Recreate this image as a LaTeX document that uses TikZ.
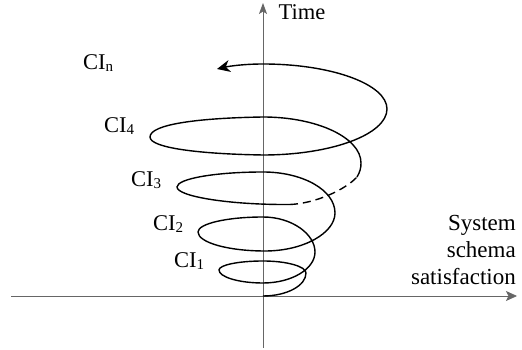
\documentclass[tikz,border=0pt]{standalone}
\usepackage{fontspec}
\setmainfont{Liberation Serif}
\usetikzlibrary{arrows.meta}
\newcommand{\mysub}[1]{\raisebox{-2pt}{\fontsize{15}{15}\selectfont #1}}
\begin{document}
\begin{tikzpicture}[x=1pt,y=1pt,
  axis/.style={draw=black!60, line width=0.8pt},
  spiral/.style={draw=black, line width=1.4pt},
  lbl/.style={font=\fontsize{22.5}{27}\selectfont, inner sep=0pt, anchor=base west},
  rlbl/.style={font=\fontsize{23}{27}\selectfont, inner sep=0pt, anchor=base east},
]
\useasboundingbox (0,0) rectangle (522,350);
% axes
\coordinate (xs) at (11,54);
\coordinate (xe) at (517,54);
\coordinate (ys) at (263,2);
\coordinate (ye) at (263,347);
\draw[axis, -{Stealth[length=11pt,width=10pt,inset=2.5pt]}] (xs) -- (xe);
\draw[axis, -{Stealth[length=11pt,width=8pt,inset=2.5pt]}] (ys) -- (ye);
% spiral points
\coordinate (P0) at (263,54);
\coordinate (R1) at (306,77);
\coordinate (T1) at (263,89);
\coordinate (L1) at (219,80);
\coordinate (B1) at (263,67);
\coordinate (R2) at (315,98);
\coordinate (T2) at (263,133);
\coordinate (L2) at (198,118);
\coordinate (B2) at (265,99);
\coordinate (R3) at (335,137);
\coordinate (T3) at (263,178);
\coordinate (L3) at (177,163);
\coordinate (B3) at (290,145.5);
\coordinate (D1) at (357,173);
\coordinate (R4) at (361,187);
\coordinate (T4) at (263,233);
\coordinate (L4) at (150,213);
\coordinate (B4) at (263,195);
\coordinate (R5) at (387,241);
\coordinate (T5) at (263,286);
\coordinate (E) at (217,281);
% solid lower part
\draw[spiral] (P0) .. controls (286.7,54) and (306,64.3) .. (R1)
  .. controls (306,83.6) and (286.7,89) .. (T1)
  .. controls (238.7,89) and (219,85) .. (L1)
  .. controls (219,73) and (238.7,67) .. (B1)
  .. controls (291.7,67) and (315,81) .. (R2)
  .. controls (315,116) and (291.7,133) .. (T2)
  .. controls (227,133) and (198,126.3) .. (L2)
  .. controls (198,107.5) and (228,99) .. (B2)
  .. controls (303.6,99) and (335,117) .. (R3)
  .. controls (335,160) and (302.7,178) .. (T3)
  .. controls (215.5,178) and (177,171.3) .. (L3)
  .. controls (177,153.5) and (230,145) .. (B3);
% dashed part
\draw[spiral, dash pattern=on 8pt off 5pt] (B3) .. controls (315,146.5) and (345,160) .. (D1);
% solid upper part
\draw[spiral, -{Stealth[length=13pt,width=12pt,inset=4pt]}] (D1) .. controls (360,178) and (361,182) .. (R4)
  .. controls (361,212.4) and (317,233) .. (T4)
  .. controls (200,232) and (150,226) .. (L4)
  .. controls (150,202) and (200,196) .. (B4)
  .. controls (331.4,195) and (387,215.6) .. (R5)
  .. controls (387,265.8) and (331.4,286) .. (T5)
  .. controls (245,286) and (230,284) .. (E);
% labels
\node[lbl] (time) at (278.5,330) {Time};
\node[lbl] (cin) at (83,280.5) {CI\mysub{n}};
\node[lbl] (ci4) at (104,217) {CI\mysub{4}};
\node[lbl] (ci3) at (131,163.3) {CI\mysub{3}};
\node[lbl] (ci2) at (153,119.3) {CI\mysub{2}};
\node[lbl] (ci1) at (174,82) {CI\mysub{1}};
\node[rlbl] (sys) at (516,119) {System};
\node[rlbl] (sch) at (516,92) {schema};
\node[rlbl] (sat) at (516,65) {satisfaction};
\end{tikzpicture}
\end{document}
